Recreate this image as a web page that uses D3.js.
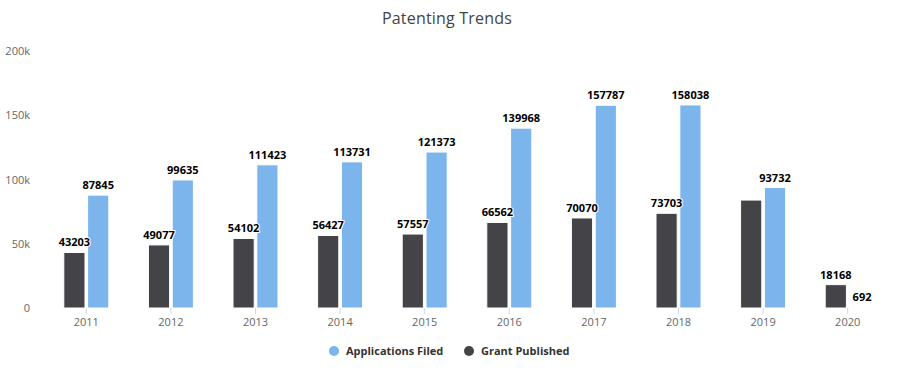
<!DOCTYPE html>
<html>
<head>
<meta charset="utf-8">
<script src="https://cdn.jsdelivr.net/npm/d3@7"></script>
<style>
    body { margin: 0; background: #fff; font-family: "Open Sans", "DejaVu Sans", sans-serif; }
    .dlabel { font-size: 11px; font-weight: bold; fill: #000; stroke: #fff; stroke-width: 2px; paint-order: stroke; stroke-linejoin: round; }
</style>
</head>
<body>
<div id="container"></div>
<script>
const years = ["2011", "2012", "2013", "2014", "2015", "2016", "2017", "2018", "2019", "2020"];
const grantPublished = [43203, 49077, 54102, 56427, 57557, 66562, 70070, 73703, 84000, 18168];
const applicationsFiled = [87845, 99635, 111423, 113731, 121373, 139968, 157787, 158038, 93732, 692];
const yTicks = [0, 50000, 100000, 150000, 200000];
const seriesNames = ["Applications Filed", "Grant Published"];
const seriesColors = { "Applications Filed": "#7cb5ec", "Grant Published": "#434348" };

const width = 907, height = 379;
const plot = { left: 44, right: 890, top: 51, bottom: 308 };

const svg = d3.select("#container").append("svg")
    .attr("width", width)
    .attr("height", height);

// title
svg.append("text")
    .attr("x", 447)
    .attr("y", 24)
    .attr("text-anchor", "middle")
    .style("font-size", "16px")
    .style("fill", "#444")
    .style("letter-spacing", "0.2px")
    .text("Patenting Trends");

// scales
const x = d3.scaleBand().domain(years).range([plot.left, plot.right]);
const inner = d3.scaleBand().domain(["Grant Published", "Applications Filed"])
    .range([x.bandwidth() / 2 - 22.5, x.bandwidth() / 2 + 22.5])
    .paddingInner(0.11);
const y = d3.scaleLinear().domain([0, 200000]).range([plot.bottom, plot.top]);

// y axis labels
const yAxis = svg.append("g")
    .attr("transform", `translate(${plot.left - 14},0)`)
    .call(d3.axisLeft(y).tickValues(yTicks).tickSize(0).tickPadding(0)
        .tickFormat(d => d === 0 ? "0" : (d / 1000) + "k"));
yAxis.select(".domain").remove();
yAxis.selectAll("text")
    .attr("dy", "0.32em")
    .style("font-family", "'Open Sans', sans-serif")
    .style("font-size", "11px")
    .style("fill", "#666");

// x axis
const xAxis = svg.append("g")
    .attr("transform", `translate(0,${plot.bottom})`)
    .call(d3.axisBottom(x).tickSize(6).tickPadding(4));
xAxis.select(".domain").remove();
xAxis.selectAll("line").attr("stroke", "#ccd6eb");
xAxis.selectAll("text")
    .style("font-family", "'Open Sans', sans-serif")
    .style("font-size", "11px")
    .style("fill", "#666");

// bars
const rows = years.map((yr, i) => ({
    year: yr,
    values: [
        { series: "Grant Published", value: grantPublished[i] },
        { series: "Applications Filed", value: applicationsFiled[i] }
    ]
}));

const groups = svg.append("g").selectAll("g")
    .data(rows)
    .join("g")
    .attr("transform", d => `translate(${x(d.year)},0)`);

groups.selectAll("rect")
    .data(d => d.values)
    .join("rect")
    .attr("x", d => inner(d.series))
    .attr("y", d => y(d.value))
    .attr("width", inner.bandwidth())
    .attr("height", d => y(0) - y(d.value))
    .attr("fill", d => seriesColors[d.series])
    .attr("stroke", "#fff")
    .attr("stroke-width", 1);

// data labels, applications first so they win overlaps
const placed = [];
const labelLayer = svg.append("g");
["Applications Filed", "Grant Published"].forEach(function(name) {
    rows.forEach(function(r) {
        const v = r.values.find(p => p.series === name);
        const cx = x(r.year) + inner(name) + inner.bandwidth() / 2;
        const t = labelLayer.append("text")
            .attr("class", "dlabel")
            .attr("x", cx)
            .attr("y", y(v.value) - 6)
            .attr("text-anchor", "middle")
            .text(v.value);
        if (v.value < 5000) {
            t.attr("text-anchor", "start").attr("x", cx - 7).attr("y", y(v.value) - 6);
        }
        const b = t.node().getBBox();
        const box = { x0: b.x - 3, x1: b.x + b.width + 3, y0: b.y - 3, y1: b.y + b.height + 3 };
        const hit = placed.some(p => box.x0 < p.x1 && box.x1 > p.x0 && box.y0 < p.y1 && box.y1 > p.y0);
        if (hit) {
            t.remove();
        } else {
            placed.push(box);
        }
    });
});

// legend
const legend = svg.append("g").attr("transform", "translate(0,351)");
const legendX = [334, 469];
seriesNames.forEach(function(name, i) {
    legend.append("circle")
        .attr("cx", legendX[i])
        .attr("cy", 0)
        .attr("r", 5)
        .attr("fill", seriesColors[name]);
    legend.append("text")
        .attr("x", legendX[i] + 12)
        .attr("y", 4)
        .style("font-size", "11px")
        .style("font-weight", "bold")
        .style("fill", "#333")
        .text(name);
});
</script>
</body>
</html>
